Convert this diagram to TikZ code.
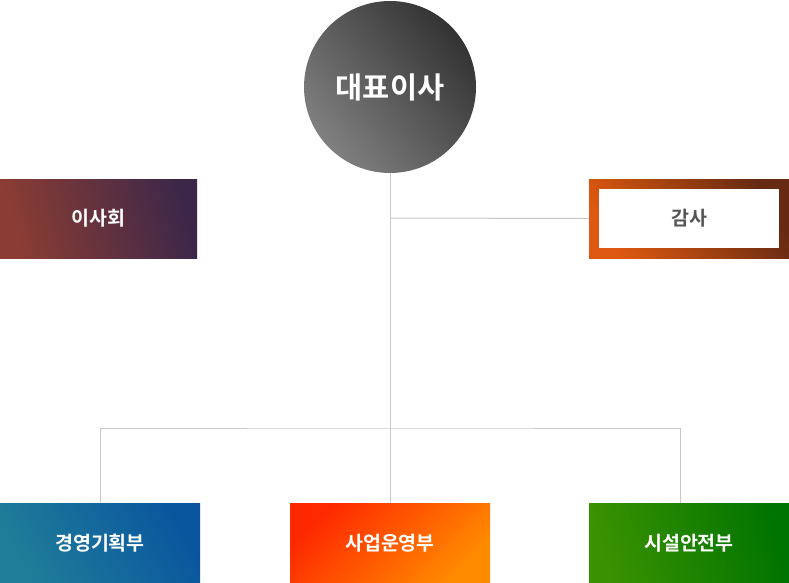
\documentclass[tikz,border=0pt]{standalone}
\usepackage{fontspec}
\setmainfont{Noto Sans CJK KR}[BoldFont={Noto Sans CJK KR Bold}]
\definecolor{linegray}{HTML}{C8C8C8}
\definecolor{ceoLight}{HTML}{808080}
\definecolor{ceoDark}{HTML}{333333}
\definecolor{brdA}{HTML}{8C3D33}
\definecolor{brdB}{HTML}{3C2749}
\definecolor{audA}{HTML}{DD5810}
\definecolor{audB}{HTML}{662A12}
\definecolor{bluA}{HTML}{1F7D99}
\definecolor{bluB}{HTML}{0A569E}
\definecolor{orgA}{HTML}{FF2800}
\definecolor{orgB}{HTML}{FF8C00}
\definecolor{grnA}{HTML}{3A9200}
\definecolor{grnB}{HTML}{007400}
\definecolor{txtgray}{HTML}{555555}
\begin{document}
\begin{tikzpicture}[x=1pt,y=1pt,
  conn/.style={draw=linegray,line width=1pt},
  boxnode/.style={rectangle,inner sep=0pt,minimum width=200pt,minimum height=80pt,
    text=white,font=\bfseries\fontsize{19.5}{21}\selectfont},
  ]
\useasboundingbox (0,0) rectangle (789,-583);
\coordinate (hub) at (390,-428);
\coordinate (jct) at (390,-218);
% nodes
\node[circle,inner sep=0pt,minimum size=172pt,left color=ceoLight,right color=ceoDark,shading angle=130,
  text=white,font=\bfseries\fontsize{29.5}{31}\selectfont] (ceo) at (390,-87) {대표이사};
\node[boxnode,minimum width=197pt,minimum height=79pt,left color=brdA,right color=brdB,shading angle=105] (board) at (98.5,-218.5) {이사회};
\node[boxnode,minimum width=200pt,minimum height=79pt,left color=audA,right color=audB,shading angle=120] (auditframe) at (689,-218.5) {};
\node[rectangle,inner sep=0pt,fill=white,minimum width=180pt,minimum height=59pt,
  text=txtgray,font=\bfseries\fontsize{19.5}{21}\selectfont] (audit) at (689,-218.5) {감사};
\node[boxnode,left color=bluA,right color=bluB,shading angle=120] (plan) at (100,-543) {경영기획부};
\node[boxnode,left color=orgA,right color=orgB,shading angle=45] (biz) at (390,-543) {사업운영부};
\node[boxnode,left color=grnA,right color=grnB,shading angle=105] (safe) at (689,-543) {시설안전부};
% connectors
\draw[conn] (ceo.south) -- (hub);
\draw[conn] (jct) -- (auditframe.west);
\draw[conn] (plan.north) |- (hub) -| (safe.north -| 680,0);
\draw[conn] (hub) -- (biz.north);
\end{tikzpicture}
\end{document}
